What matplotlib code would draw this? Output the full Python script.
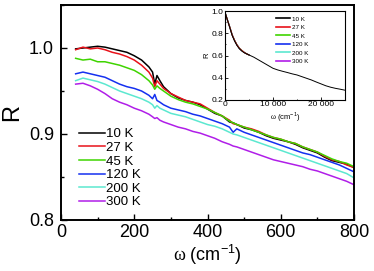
import matplotlib
matplotlib.use("Agg")
import matplotlib.pyplot as plt
from matplotlib.ticker import MultipleLocator

plt.rcParams["font.family"] = ["Liberation Sans", "DejaVu Sans"]
plt.rcParams["mathtext.fontset"] = "custom"
plt.rcParams["mathtext.rm"] = "Liberation Serif"
plt.rcParams["mathtext.sf"] = "Liberation Sans"

# ── data ─────────────────────────────────────────────────────────────────────
labels = ["10 K", "27 K", "45 K", "120 K", "200 K", "300 K"]
colors = ["#000000", "#e8121a", "#3fd400", "#1530f0", "#5ce8d0", "#b01ee8"]

omega = [40, 60, 80, 100, 120, 140, 160, 180, 200, 220, 240, 250, 256, 262,
         270, 280, 300, 320, 340, 360, 380, 400, 420, 440, 460, 470, 480, 500,
         520, 540, 560, 580, 600, 620, 640, 660, 680, 700, 720, 740, 760, 780, 800]

r_10 = [0.999, 1.000, 1.001, 1.002, 1.001, 0.999, 0.997, 0.995, 0.991, 0.986,
        0.978, 0.972, 0.958, 0.968, 0.962, 0.955, 0.947, 0.942, 0.939, 0.937,
        0.934, 0.929, 0.924, 0.921, 0.914, 0.913, 0.911, 0.907, 0.905, 0.902,
        0.898, 0.895, 0.893, 0.891, 0.888, 0.884, 0.881, 0.878, 0.873, 0.869,
        0.867, 0.865, 0.861]
r_27 = [0.998, 1.001, 0.999, 1.000, 0.998, 0.995, 0.993, 0.990, 0.986, 0.980,
        0.972, 0.965, 0.955, 0.962, 0.958, 0.953, 0.947, 0.943, 0.939, 0.937,
        0.935, 0.930, 0.925, 0.921, 0.916, 0.912, 0.911, 0.908, 0.906, 0.903,
        0.899, 0.896, 0.894, 0.891, 0.889, 0.885, 0.882, 0.879, 0.874, 0.870,
        0.868, 0.864, 0.861]
r_45 = [0.988, 0.986, 0.987, 0.984, 0.984, 0.982, 0.980, 0.977, 0.974, 0.969,
        0.962, 0.957, 0.952, 0.956, 0.953, 0.950, 0.944, 0.940, 0.937, 0.935,
        0.932, 0.929, 0.925, 0.921, 0.915, 0.913, 0.911, 0.908, 0.905, 0.902,
        0.899, 0.896, 0.894, 0.891, 0.889, 0.885, 0.882, 0.879, 0.875, 0.871,
        0.868, 0.866, 0.862]
r_120 = [0.970, 0.972, 0.970, 0.968, 0.966, 0.962, 0.958, 0.955, 0.953, 0.950,
         0.945, 0.941, 0.946, 0.939, 0.937, 0.934, 0.930, 0.928, 0.926, 0.923,
         0.921, 0.918, 0.915, 0.912, 0.908, 0.902, 0.906, 0.902, 0.899, 0.896,
         0.893, 0.890, 0.887, 0.884, 0.881, 0.878, 0.876, 0.873, 0.870, 0.867,
         0.864, 0.860, 0.856]
r_200 = [0.962, 0.965, 0.963, 0.961, 0.958, 0.954, 0.950, 0.947, 0.944, 0.941,
         0.937, 0.934, 0.930, 0.933, 0.930, 0.928, 0.924, 0.922, 0.920, 0.917,
         0.914, 0.911, 0.909, 0.906, 0.902, 0.900, 0.899, 0.896, 0.893, 0.890,
         0.887, 0.884, 0.881, 0.878, 0.875, 0.872, 0.869, 0.866, 0.863, 0.860,
         0.857, 0.854, 0.849]
r_300 = [0.958, 0.959, 0.956, 0.952, 0.947, 0.941, 0.937, 0.934, 0.930, 0.927,
         0.923, 0.920, 0.918, 0.919, 0.916, 0.914, 0.911, 0.908, 0.906, 0.903,
         0.901, 0.898, 0.895, 0.891, 0.888, 0.886, 0.885, 0.882, 0.879, 0.876,
         0.873, 0.870, 0.868, 0.866, 0.864, 0.862, 0.859, 0.857, 0.854, 0.851,
         0.848, 0.845, 0.841]
spectra = [r_10, r_27, r_45, r_120, r_200, r_300]

# inset: broad-range reflectivity (curves overlap; black spans the full range)
omega_wide = [100, 500, 1000, 1500, 2000, 2500, 3000, 3500, 4000, 4500, 5000,
              6000, 7000, 8000, 9000, 10000, 11000, 12000, 13000, 14000, 15000,
              16000, 17000, 18000, 19000, 20000, 21000, 22000, 23000, 24000, 25000]
r_wide = [0.975, 0.92, 0.85, 0.78, 0.73, 0.69, 0.66, 0.64, 0.625, 0.615, 0.605,
          0.585, 0.56, 0.535, 0.51, 0.485, 0.47, 0.458, 0.447, 0.435, 0.425,
          0.41, 0.395, 0.38, 0.362, 0.345, 0.328, 0.315, 0.305, 0.297, 0.288]
omega_low = [100, 500, 1000, 1500, 2000, 2500, 3000, 3500, 4000, 4500, 5000]
r_low = [0.975, 0.92, 0.855, 0.785, 0.735, 0.695, 0.665, 0.645, 0.628, 0.615, 0.605]

# ── figure ───────────────────────────────────────────────────────────────────
fig = plt.figure(figsize=(3.74, 2.71), dpi=100)
ax = fig.add_axes([61 / 374, 1 - 220 / 271, 293 / 374, 215 / 271])

for r, c, lab in zip(spectra, colors, labels):
    ax.plot(omega, r, color=c, lw=1.1, label=lab)

ax.set_xlim(0, 800)
ax.set_ylim(0.8, 1.05)
ax.xaxis.set_major_locator(MultipleLocator(200))
ax.xaxis.set_minor_locator(MultipleLocator(100))
ax.set_yticks([0.8, 0.9, 1.0])
ax.set_yticklabels(["0.8", "0.9", "1.0"])
ax.yaxis.set_minor_locator(MultipleLocator(0.05))
ax.tick_params(which="both", direction="in", labelsize=13, width=1.0)
ax.tick_params(axis="x", pad=3)
ax.tick_params(axis="y", pad=5)
ax.tick_params(which="major", length=4)
ax.tick_params(which="minor", length=2.5)
for s in ax.spines.values():
    s.set_linewidth(1.4)
ax.set_xlabel(r"$\mathrm{\omega}$ (cm$^{\mathsf{-1}}$)", fontsize=13, labelpad=1)
ax.set_ylabel("R", fontsize=17, labelpad=4)

ax.legend(loc="lower left", bbox_to_anchor=(0.045, 0.03), frameon=False,
          fontsize=9.5, handlelength=1.9, handletextpad=0.1,
          labelspacing=0.1, borderaxespad=0)

# ── inset ────────────────────────────────────────────────────────────────────
ins = fig.add_axes([225 / 374, 1 - 100 / 271, 120 / 374, 89 / 271])
ins.plot(omega_low, r_low, color=colors[5], lw=0.8)
ins.plot(omega_low, r_low, color=colors[4], lw=0.8)
ins.plot(omega_low, r_low, color=colors[3], lw=0.8)
ins.plot(omega_low, r_low, color=colors[2], lw=0.8)
ins.plot(omega_low, r_low, color=colors[1], lw=0.8)
ins.plot(omega_wide, r_wide, color=colors[0], lw=0.7)
ins.set_xlim(0, 25000)
ins.set_ylim(0.2, 1.0)
ins.set_xticks([0, 10000, 20000])
ins.set_xticklabels(["0", "10 000", "20 000"])
ins.xaxis.set_minor_locator(MultipleLocator(5000))
ins.set_yticks([0.2, 0.4, 0.6, 0.8, 1.0])
ins.yaxis.set_minor_locator(MultipleLocator(0.1))
ins.tick_params(which="both", direction="in", labelsize=6, pad=1, width=0.6)
ins.tick_params(which="major", length=2)
ins.tick_params(which="minor", length=1)
for s in ins.spines.values():
    s.set_linewidth(0.8)
ins.set_xlabel(r"$\mathrm{\omega}$ (cm$^{\mathsf{-1}}$)", fontsize=5.5, labelpad=1)
ins.set_ylabel("R", fontsize=5.5, labelpad=1)

handles = [plt.Line2D([], [], color=c, lw=1.2) for c in colors]
ins.legend(handles, labels, loc="upper left", bbox_to_anchor=(0.4, 0.97),
           frameon=False, fontsize=4.5, handlelength=2.3, handletextpad=0.3,
           labelspacing=0.5, borderaxespad=0)

fig.savefig("out.png", dpi=100)
